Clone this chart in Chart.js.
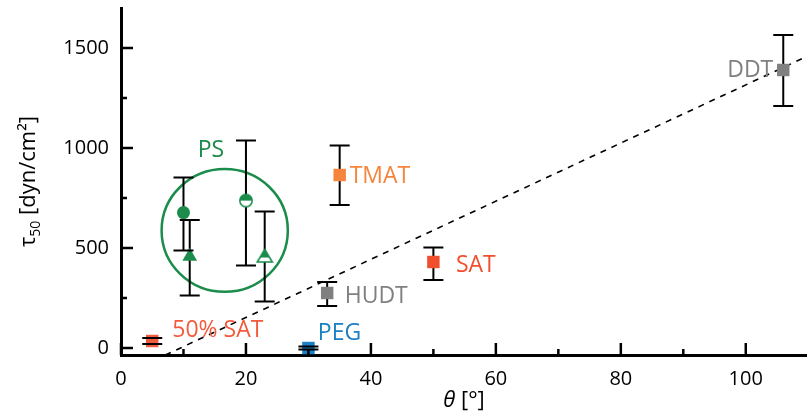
<!DOCTYPE html>
<html>
<head>
<meta charset="utf-8">
<script src="https://cdn.jsdelivr.net/npm/chart.js@4/dist/chart.umd.min.js"></script>
<style>
  html, body { margin: 0; padding: 0; background: #fff; }
  #wrap { width: 807px; height: 414px; }
</style>
</head>
<body>
<div id="wrap"><canvas id="chart"></canvas></div>
<script>
// values
var names = ['50% SAT', 'PEG', 'HUDT', 'SAT', 'TMAT', 'DDT'];
var theta = [5, 30, 33, 50, 35, 106];
var tau = [35, 0, 275, 430, 865, 1390];
var tauLow = [20, -8, 210, 340, 715, 1210];
var tauHigh = [50, 8, 330, 503, 1012, 1565];
var colors = ['#f25a3d', '#1a7fc4', '#808080', '#f04e2c', '#f7843c', '#808080'];

// polystyrene group (PS)
var psTheta = [10, 11, 20, 23];
var psTau = [677, 457, 737, 460];
var psLow = [487, 262, 412, 232];
var psHigh = [853, 640, 1037, 682];

// dashed trend line
var fitTheta = [7.1, 109.8];
var fitTau = [-35, 1458];

var xTicks = [0, 10, 20, 30, 40, 50, 60, 70, 80, 90, 100];
var yTicks = [0, 250, 500, 750, 1000, 1250, 1500];

var green = '#1b8c4b';

// where the text labels sit (data coords) and how they align
var labelAt = [[8.2, 90, 'left'], [31.5, 75, 'left'], [35.8, 260, 'left'],
               [53.6, 415, 'left'], [36.6, 860, 'left'], [104.4, 1390, 'right']];
var psLabelAt = [14.4, 990];
var psRing = { cx: 16.6, cy: 588, rx: 10.1, ry: 307 };

// half filled markers for the open PS symbols
function halfCircle() {
  var c = document.createElement('canvas');
  c.width = 16; c.height = 16;
  var g = c.getContext('2d');
  g.beginPath(); g.arc(8, 8, 6.2, 0, Math.PI * 2); g.fillStyle = '#fff'; g.fill();
  g.beginPath(); g.arc(8, 8, 6.2, Math.PI, 0); g.closePath(); g.fillStyle = green; g.fill();
  g.beginPath(); g.arc(8, 8, 6.2, 0, Math.PI * 2); g.lineWidth = 1.5; g.strokeStyle = green; g.stroke();
  return c;
}
function halfTriangle() {
  var c = document.createElement('canvas');
  c.width = 18; c.height = 16;
  var g = c.getContext('2d');
  g.beginPath(); g.moveTo(9, 1.5); g.lineTo(16.5, 14); g.lineTo(1.5, 14); g.closePath();
  g.fillStyle = '#fff'; g.fill();
  g.save(); g.clip();
  g.fillStyle = green; g.fillRect(0, 0, 18, 9.5);
  g.restore();
  g.lineWidth = 1.6; g.strokeStyle = green; g.stroke();
  return c;
}

var errorBars = {
  id: 'errorBars',
  lines: function (chart, caps) {
    var xs = chart.scales.x, ys = chart.scales.y, ctx = chart.ctx;
    var sets = [[theta, tauLow, tauHigh], [psTheta, psLow, psHigh]];
    ctx.save();
    ctx.strokeStyle = '#000';
    ctx.lineWidth = 2;
    sets.forEach(function (s) {
      for (var i = 0; i < s[0].length; i++) {
        var x = xs.getPixelForValue(s[0][i]);
        var y1 = ys.getPixelForValue(s[1][i]);
        var y2 = ys.getPixelForValue(s[2][i]);
        ctx.beginPath();
        if (caps) {
          ctx.moveTo(x - 10, y1); ctx.lineTo(x + 10, y1);
          ctx.moveTo(x - 10, y2); ctx.lineTo(x + 10, y2);
        } else {
          ctx.moveTo(x, y1); ctx.lineTo(x, y2);
        }
        ctx.stroke();
      }
    });
    ctx.restore();
  },
  beforeDatasetsDraw: function (chart) {
    var xs = chart.scales.x, ys = chart.scales.y, ctx = chart.ctx;
    // PS ring
    ctx.save();
    ctx.beginPath();
    var cx = xs.getPixelForValue(psRing.cx), cy = ys.getPixelForValue(psRing.cy);
    var rx = xs.getPixelForValue(psRing.cx + psRing.rx) - cx;
    var ry = cy - ys.getPixelForValue(psRing.cy + psRing.ry);
    ctx.ellipse(cx, cy, rx, ry, 0, 0, Math.PI * 2);
    ctx.strokeStyle = green;
    ctx.lineWidth = 2.5;
    ctx.stroke();
    ctx.restore();
    this.lines(chart, false);
  },
  afterDatasetsDraw: function (chart) {
    this.lines(chart, true);
    var xs = chart.scales.x, ys = chart.scales.y, ctx = chart.ctx;
    ctx.save();
    ctx.font = '23px "Open Sans"';
    ctx.textBaseline = 'middle';
    for (var i = 0; i < names.length; i++) {
      ctx.fillStyle = colors[i];
      ctx.textAlign = labelAt[i][2];
      ctx.fillText(names[i], xs.getPixelForValue(labelAt[i][0]), ys.getPixelForValue(labelAt[i][1]));
    }
    ctx.fillStyle = green;
    ctx.textAlign = 'center';
    ctx.fillText('PS', xs.getPixelForValue(psLabelAt[0]), ys.getPixelForValue(psLabelAt[1]));
    ctx.restore();
  }
};

// inward tick marks and axis titles
var axisDecor = {
  id: 'axisDecor',
  afterDraw: function (chart) {
    var xs = chart.scales.x, ys = chart.scales.y, ctx = chart.ctx, a = chart.chartArea;
    ctx.save();
    ctx.strokeStyle = '#000';
    ctx.lineWidth = 2.5;
    xTicks.forEach(function (v) {
      var x = xs.getPixelForValue(v), len = v % 20 === 0 ? 12 : 6;
      ctx.beginPath(); ctx.moveTo(x, a.bottom); ctx.lineTo(x, a.bottom - len); ctx.stroke();
    });
    yTicks.forEach(function (v) {
      var y = ys.getPixelForValue(v), len = v % 500 === 0 ? 12 : 6;
      ctx.beginPath(); ctx.moveTo(a.left, y); ctx.lineTo(a.left + len, y); ctx.stroke();
    });

    ctx.fillStyle = '#000';
    // y title: tau_50 [dyn/cm²]
    ctx.translate(28, (a.top + a.bottom) / 2);
    ctx.rotate(-Math.PI / 2);
    ctx.textBaseline = 'alphabetic';
    ctx.textAlign = 'left';
    var big = '22px "Open Sans"', small = '14px "Open Sans"';
    ctx.font = big; var w1 = ctx.measureText('\u03c4').width;
    ctx.font = small; var w2 = ctx.measureText('50').width;
    ctx.font = big; var w3 = ctx.measureText(' [dyn/cm\u00b2]').width;
    var x0 = -(w1 + w2 + w3) / 2;
    ctx.fillText('\u03c4', x0, 7);
    ctx.font = small; ctx.fillText('50', x0 + w1, 12);
    ctx.font = big; ctx.fillText(' [dyn/cm\u00b2]', x0 + w1 + w2, 7);
    ctx.restore();

    // x title: theta [°]
    ctx.save();
    ctx.fillStyle = '#000';
    ctx.textBaseline = 'alphabetic';
    ctx.font = 'italic 22px "Open Sans"';
    var t1 = ctx.measureText('\u03b8').width;
    ctx.font = '22px "Open Sans"';
    var t2 = ctx.measureText(' [\u00b0]').width;
    var cx = (a.left + a.right) / 2 - (t1 + t2) / 2;
    ctx.font = 'italic 22px "Open Sans"';
    ctx.fillText('\u03b8', cx, 407);
    ctx.font = '22px "Open Sans"';
    ctx.fillText(' [\u00b0]', cx + t1, 407);
    ctx.restore();
  }
};

function noPad(s) {
  s.paddingTop = 0; s.paddingBottom = 0; s.paddingLeft = 0; s.paddingRight = 0;
}

var mainPoints = theta.map(function (t, i) { return { x: t, y: tau[i] }; });
var psPoints = psTheta.map(function (t, i) { return { x: t, y: psTau[i] }; });
var fitPoints = fitTheta.map(function (t, i) { return { x: t, y: fitTau[i] }; });

new Chart(document.getElementById('chart'), {
  type: 'scatter',
  data: {
    datasets: [{
      data: mainPoints,
      pointStyle: 'rect',
      pointRadius: 8.8,
      borderWidth: 0,
      backgroundColor: colors,
      borderColor: colors
    }, {
      data: psPoints,
      pointStyle: ['circle', 'triangle', halfCircle(), halfTriangle()],
      pointRadius: [6.5, 8.5, 6.5, 8.5],
      borderWidth: 0,
      backgroundColor: green,
      borderColor: green
    }, {
      type: 'line',
      data: fitPoints,
      borderColor: '#000',
      borderWidth: 1.6,
      borderDash: [6, 6],
      pointRadius: 0,
      fill: false
    }]
  },
  options: {
    responsive: true,
    maintainAspectRatio: false,
    animation: false,
    layout: { autoPadding: false, padding: { top: 8, right: 0, left: 0, bottom: 0 } },
    plugins: { legend: { display: false }, tooltip: { enabled: false } },
    scales: {
      x: {
        type: 'linear',
        min: 0,
        max: 109.8,
        afterBuildTicks: function (s) { s.ticks = xTicks.map(function (v) { return { value: v }; }); },
        afterFit: function (s) { s.height = 59; noPad(s); },
        grid: { display: false, drawTicks: false },
        border: { display: true, color: '#000', width: 3 },
        ticks: {
          padding: 12,
          maxRotation: 0,
          autoSkip: false,
          color: '#000',
          font: { family: 'Open Sans', size: 20 },
          callback: function (v) { return v % 20 === 0 ? v : ''; }
        }
      },
      y: {
        min: -35,
        max: 1700,
        afterBuildTicks: function (s) { s.ticks = yTicks.map(function (v) { return { value: v }; }); },
        afterFit: function (s) { s.width = 121; noPad(s); },
        grid: { display: false, drawTicks: false },
        border: { display: true, color: '#000', width: 3 },
        ticks: {
          padding: 12,
          autoSkip: false,
          color: '#000',
          font: { family: 'Open Sans', size: 20 },
          callback: function (v) { return v % 500 === 0 ? v : ''; }
        }
      }
    }
  },
  plugins: [errorBars, axisDecor]
});
</script>
</body>
</html>
